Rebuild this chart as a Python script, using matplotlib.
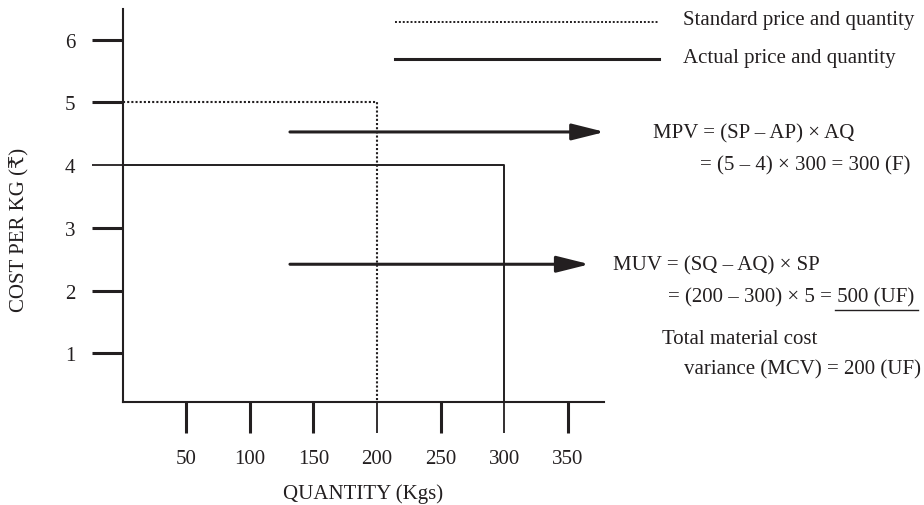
import matplotlib.pyplot as plt
from matplotlib.lines import Line2D

# ------------------------------
# 1. Data
# ------------------------------
std_price, std_qty = 5, 200
act_price, act_qty = 4, 300
x_ticks = [50, 100, 150, 200, 250, 300, 350]
y_ticks = [1, 2, 3, 4, 5, 6]
legend_labels = ['Standard price and quantity', 'Actual price and quantity']
mpv_lines = ['MPV = (SP – AP) × AQ', '= (5 – 4) × 300 = 300 (F)']
muv_lines = ['MUV = (SQ – AQ) × SP', '= (200 – 300) × 5 = 500 (UF)']
mcv_lines = ['Total material cost', 'variance (MCV) = 200 (UF)']

# ------------------------------
# 2. Figure setup
# ------------------------------
W, H = 924, 506
INK = '#231f20'
FS = 15
plt.rcParams['font.family'] = ['Liberation Serif', 'DejaVu Serif', 'DejaVu Sans']


def fx(x):
    return x / W


def fy(y):
    return 1 - y / H


fig = plt.figure(figsize=(W / 100, H / 100), dpi=100)
ax = fig.add_axes([fx(122.7), fy(403), (604 - 122.7) / W, (403 - 10) / H])
ax.set_xlim(0, 378.4)
ax.set_ylim(0.223, 6.491)

for side in ['top', 'right']:
    ax.spines[side].set_visible(False)
for side in ['left', 'bottom']:
    ax.spines[side].set_linewidth(1.5)
    ax.spines[side].set_color(INK)

ax.set_xticks(x_ticks)
ax.set_yticks(y_ticks)
ax.tick_params(axis='both', direction='out', length=22, width=2.2, color=INK,
               labelsize=FS, labelcolor=INK)
ax.tick_params(axis='x', pad=12)
ax.tick_params(axis='y', pad=12)

# thin ticks where the price / quantity lines run through
for t, v in zip(ax.xaxis.get_major_ticks(), x_ticks):
    if v in (std_qty, act_qty):
        t.tick1line.set_markeredgewidth(1.3)
for t, v in zip(ax.yaxis.get_major_ticks(), y_ticks):
    if v == act_price:
        t.tick1line.set_markeredgewidth(1.3)

# ------------------------------
# 3. Price / quantity lines
# ------------------------------
y0 = ax.get_ylim()[0]
ax.plot([0, std_qty, std_qty], [std_price, std_price, y0], color=INK,
        lw=1.5, linestyle=(0, (1, 1)), solid_capstyle='butt')
ax.plot([0, act_qty, act_qty], [act_price, act_price, y0], color=INK, lw=1.4)

# legend
ax.plot([214, 422], [6.28, 6.28], color=INK, lw=1.4, linestyle=(0, (1, 1)),
        clip_on=False)
ax.plot([214, 422], [5.69, 5.69], color=INK, lw=2.2, clip_on=False)
for lab, yy in zip(legend_labels, [20, 59]):
    fig.text(fx(683), fy(yy), lab, ha='left', va='center', fontsize=FS, color=INK)

# ------------------------------
# 4. Arrows and variance formulas
# ------------------------------
for y_arrow, x_end in [(4.53, 379), (2.42, 367)]:
    ax.annotate('', xy=(x_end, y_arrow), xytext=(131.5, y_arrow),
                annotation_clip=False,
                arrowprops=dict(arrowstyle='-|>,head_length=1.0,head_width=0.25',
                                mutation_scale=20, lw=2.2, color=INK,
                                shrinkA=0, shrinkB=0))

fig.text(fx(653), fy(134), mpv_lines[0], ha='left', va='center', fontsize=FS, color=INK)
fig.text(fx(700), fy(166), mpv_lines[1], ha='left', va='center', fontsize=FS, color=INK)
fig.text(fx(613), fy(266), muv_lines[0], ha='left', va='center', fontsize=FS, color=INK)
muv_t = fig.text(fx(668), fy(298), muv_lines[1], ha='left', va='center',
                 fontsize=FS, color=INK)
fig.text(fx(662), fy(339), mcv_lines[0], ha='left', va='center', fontsize=FS, color=INK)
fig.text(fx(684), fy(370), mcv_lines[1], ha='left', va='center', fontsize=FS, color=INK)

# underline the "500 (UF)" part, starting just after the last "="
renderer = fig.canvas.get_renderer()
prefix = muv_lines[1][:muv_lines[1].rfind('=') + 1]
tmp = fig.text(fx(668), fy(298), prefix, fontsize=FS)
x_start = tmp.get_window_extent(renderer).x1 + 3
tmp.remove()
x_end = muv_t.get_window_extent(renderer).x1 + 4
fig.add_artist(Line2D([x_start / W, x_end / W], [fy(311), fy(311)], lw=1.0, color=INK))

# axis titles
fig.text(fx(20), fy(230), 'COST PER KG (₹)', rotation=90, ha='center', va='center',
         fontsize=FS, color=INK)
fig.text(fx(363), fy(494), 'QUANTITY (Kgs)', ha='center', va='center',
         fontsize=FS, color=INK)

fig.savefig('out.png', dpi=100)
